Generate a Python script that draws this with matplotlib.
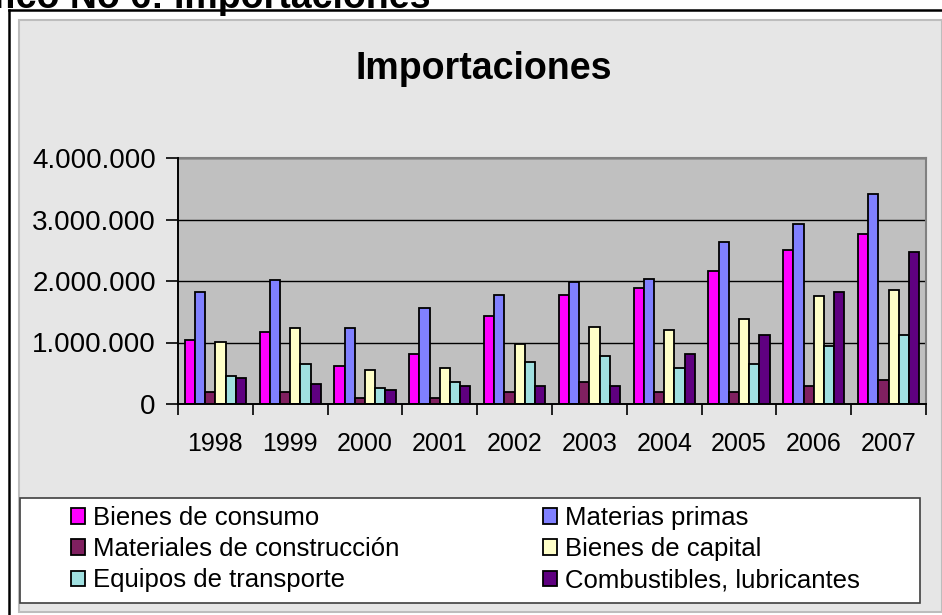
#Importaciones 1998-2007 por tipo de bien
#Barras agrupadas al estilo de grafico de Excel

import matplotlib
matplotlib.use('Agg')
import matplotlib.pyplot as plt
from matplotlib.patches import Rectangle
from matplotlib.lines import Line2D
from matplotlib.ticker import FuncFormatter, MultipleLocator
import numpy as np

plt.rcParams['font.family'] = ['Liberation Sans', 'DejaVu Sans']

#Years on x axis
years = ['1998', '1999', '2000', '2001', '2002', '2003', '2004', '2005', '2006', '2007']

#Series names
series = ['Bienes de consumo', 'Materias primas', 'Materiales de construcción',
          'Bienes de capital', 'Equipos de transporte', 'Combustibles, lubricantes']

#Values (miles)
consumo = [1035000, 1165000, 610000, 810000, 1425000, 1780000, 1880000, 2170000, 2500000, 2760000]
primas = [1815000, 2010000, 1230000, 1555000, 1780000, 1980000, 2040000, 2630000, 2920000, 3410000]
construccion = [190000, 190000, 90000, 90000, 190000, 350000, 190000, 190000, 290000, 385000]
capital = [1010000, 1230000, 550000, 580000, 970000, 1260000, 1200000, 1390000, 1750000, 1850000]
transporte = [450000, 645000, 260000, 350000, 680000, 775000, 580000, 645000, 940000, 1130000]
combustibles = [420000, 325000, 230000, 290000, 290000, 290000, 810000, 1130000, 1815000, 2470000]

colors = ['#FF00FF', '#8080FF', '#802060', '#FFFFC8', '#A0E0E0', '#5F0080']

W, H = 942, 615
def px(x):
    return x / W
def py(y):
    return 1 - y / H

fig = plt.figure(figsize=(W / 100, H / 100), dpi=100, facecolor='white')

#Chart area background and outer frame
fig.add_artist(Rectangle((px(19), py(612)), px(942) - px(19), py(20) - py(612),
                         transform=fig.transFigure, facecolor='#E6E6E6',
                         edgecolor='#BDBDBD', lw=1.5, zorder=-1))
fig.add_artist(Line2D([px(9), px(9)], [py(615), py(10)], transform=fig.transFigure,
                      color='black', lw=1.8))
fig.add_artist(Line2D([px(9), px(942)], [py(10), py(10)], transform=fig.transFigure,
                      color='black', lw=1.8))

#Heading cut at the top of the page
fig.text(px(430), py(8), 'Gráfico No 6: Importaciones', ha='right', va='baseline',
         fontsize=27, fontweight='bold')

#Chart title
fig.text(px(484), py(69), 'Importaciones', ha='center', va='center',
         fontsize=27, fontweight='bold')

ax = fig.add_axes([px(178), py(404), px(926) - px(178), py(158) - py(404)])
ax.set_facecolor('#C0C0C0')

data = [consumo, primas, construccion, capital, transporte, combustibles]
x = np.arange(len(years))
bw = 0.136
bars = []
for i, vals in enumerate(data):
    b = ax.bar(x + (i - 2.5) * bw, vals, bw, color=colors[i], edgecolor='black',
               lw=1.3, label=series[i], zorder=3)
    bars.append(b)

#Axes formatting
ax.set_xlim(-0.5, 9.5)
ax.set_ylim(0, 4000000)
ax.yaxis.set_major_locator(MultipleLocator(1000000))
ax.yaxis.set_major_formatter(FuncFormatter(lambda v, p: '{:,}'.format(int(v)).replace(',', '.')))
ax.grid(axis='y', color='black', lw=1.0, zorder=1)
ax.set_xticks(x)
ax.set_xticklabels(years)
ax.set_xticks(np.arange(-0.5, 10, 1), minor=True)
ax.tick_params(axis='x', which='major', length=0, pad=20, labelsize=18)
ax.tick_params(axis='x', which='minor', length=8, width=1.2, direction='out', color='black')
ax.tick_params(axis='y', length=9, width=1.2, direction='out', pad=7, labelsize=20)
for s in ['left', 'bottom']:
    ax.spines[s].set_color('black')
    ax.spines[s].set_linewidth(1.4)
    ax.spines[s].set_zorder(4)
for s in ['top', 'right']:
    ax.spines[s].set_color('#808080')
    ax.spines[s].set_linewidth(1.5)

#Legend box and two columns of entries
fig.add_artist(Rectangle((px(20), py(603)), px(920) - px(20), py(498) - py(603),
                         transform=fig.transFigure, facecolor='white',
                         edgecolor='#404040', lw=1.2, zorder=3))
opts = dict(loc='upper left', frameon=False, borderpad=0, borderaxespad=0, fontsize=18.5,
            handlelength=0.55, handleheight=0.55, handletextpad=0.3, labelspacing=0.28)
leg1 = fig.legend([bars[0], bars[2], bars[4]], [series[0], series[2], series[4]],
                  bbox_to_anchor=(px(71), py(506)), **opts)
leg2 = fig.legend([bars[1], bars[3], bars[5]], [series[1], series[3], series[5]],
                  bbox_to_anchor=(px(543), py(506)), **opts)
leg1.set_zorder(5)
leg2.set_zorder(5)

fig.savefig('out.png', dpi=100, facecolor='white')
